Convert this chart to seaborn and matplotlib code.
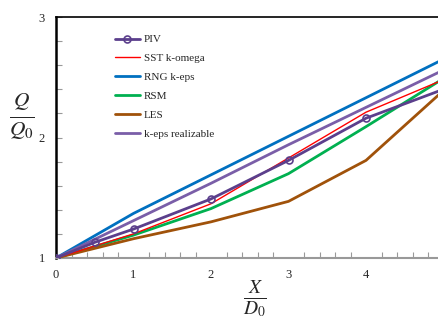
import matplotlib
matplotlib.use("Agg")
import matplotlib.pyplot as plt
import seaborn as sns
import pandas as pd
from matplotlib.ticker import MultipleLocator

sns.set_style("white")
plt.rcParams['font.family'] = ['Liberation Serif', 'DejaVu Serif']
plt.rcParams['mathtext.fontset'] = 'stix'

x_piv = [0, 0.5, 1, 2, 3, 4, 5]
piv = [1.0, 1.13, 1.24, 1.49, 1.81, 2.16, 2.40]
x_sim = [0, 1, 2, 3, 4, 5]
sst = [1.0, 1.20, 1.45, 1.83, 2.21, 2.48]
rng = [1.0, 1.37, 1.69, 2.01, 2.33, 2.65]
rsm = [1.0, 1.19, 1.41, 1.70, 2.09, 2.49]
les = [1.0, 1.16, 1.30, 1.47, 1.81, 2.39]
realizable = [1.0, 1.31, 1.62, 1.94, 2.25, 2.56]

series_names = ["SST k-omega", "RNG k-eps", "RSM", "LES", "k-eps realizable"]
series_vals = [sst, rng, rsm, les, realizable]
colors = {"PIV": "#5b3f8c", "SST k-omega": "#ff0000", "RNG k-eps": "#0070c0",
          "RSM": "#00b050", "LES": "#a0520a", "k-eps realizable": "#7a5ea8"}

fig = plt.figure(figsize=(4.38, 3.22), dpi=100)
ax = fig.add_axes([56/438, 64/322, (5*77.5)/438, 241/322])

df_piv = pd.DataFrame({"x": x_piv, "y": piv})
sns.lineplot(data=df_piv, x="x", y="y", ax=ax, color=colors["PIV"], lw=2,
             marker="o", markersize=5, markerfacecolor="none",
             markeredgecolor=colors["PIV"], markeredgewidth=1.2, label="PIV", zorder=6)
for name, vals in zip(series_names, series_vals):
    lw = 1.0 if name == "SST k-omega" else 2.0
    sns.lineplot(x=x_sim, y=vals, ax=ax, color=colors[name], lw=lw, label=name,
                 zorder=5 if name == "SST k-omega" else 3)

ax.set_xlim(0, 5)
ax.set_ylim(1, 3)
ax.xaxis.set_minor_locator(MultipleLocator(0.2))
ax.yaxis.set_minor_locator(MultipleLocator(0.2))
ax.set_xticks([0, 1, 2, 3, 4])
ax.set_xticklabels(["0", "1", "2", "3", "4"])
ax.set_yticks([1, 2, 3])
ax.tick_params(axis='x', which='major', direction='inout', length=8, width=0.8,
               color='#999999', labelsize=9, pad=4)
ax.tick_params(axis='x', which='minor', direction='in', length=4, width=0.8,
               color='#999999', bottom=True)
ax.tick_params(axis='y', which='major', direction='in', length=4, width=0.8,
               color='#999999', labelsize=9, pad=8, left=True)
ax.tick_params(axis='y', which='minor', direction='in', length=4, width=0.8,
               color='#999999', left=True)

ax.spines['left'].set_color('black')
ax.spines['left'].set_linewidth(1.8)
ax.spines['top'].set_color('black')
ax.spines['top'].set_linewidth(1.2)
ax.spines['bottom'].set_color('#999999')
ax.spines['bottom'].set_linewidth(1.5)
ax.spines['right'].set_visible(False)

ax.set_xlabel("")
ax.set_ylabel("")
fig.text(255/438, 1 - 299/322, r'$\frac{X}{D_0}$', fontsize=20, ha='center', va='center')
fig.text(22/438, 1 - 116/322, r'$\frac{Q}{Q_0}$', fontsize=22, ha='center', va='center')

leg = ax.legend(loc='upper left', bbox_to_anchor=(0.14, 0.945), frameon=False,
                fontsize=8, handlelength=2.3, handletextpad=0.3, labelspacing=0.82,
                borderaxespad=0)

fig.savefig("out.png", dpi=100)
